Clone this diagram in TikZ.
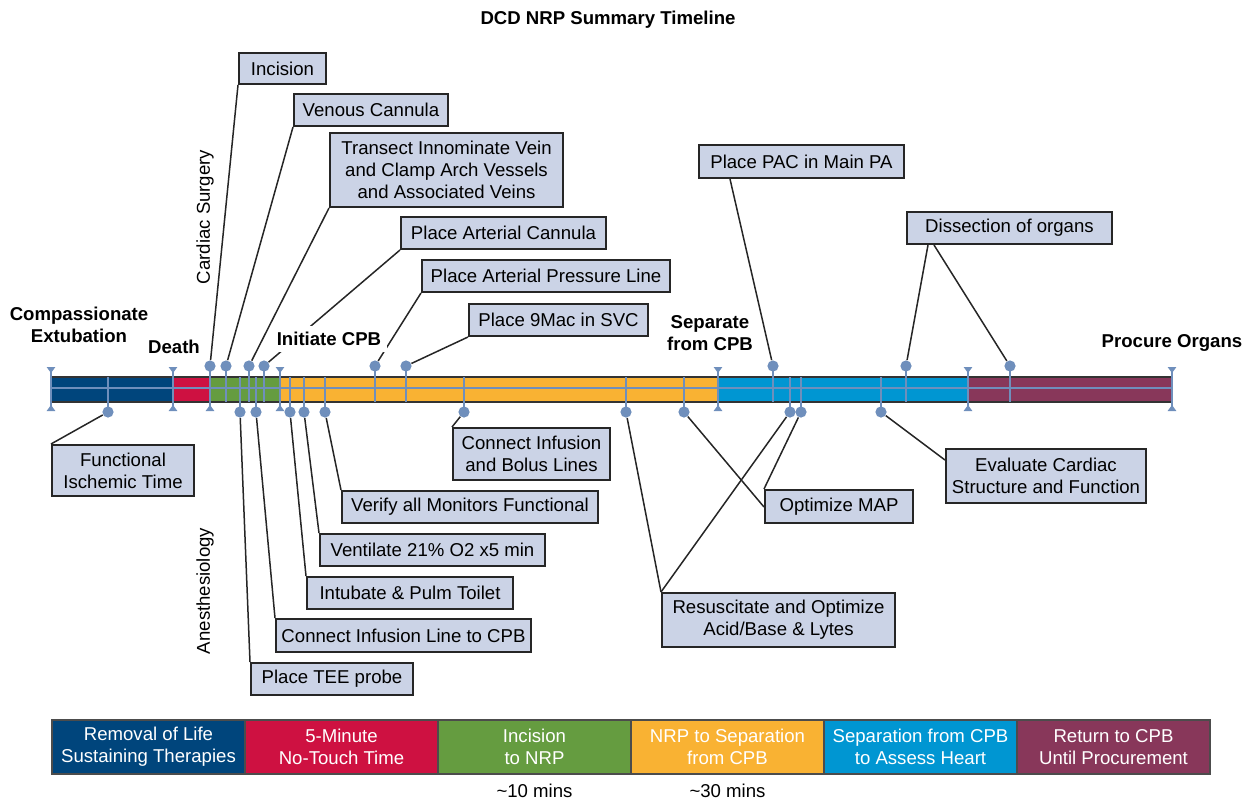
\documentclass[tikz,border=0pt]{standalone}
\usepackage{fontspec}
\setmainfont{Liberation Sans}
\usetikzlibrary{arrows.meta}

\definecolor{boxfill}{RGB}{203,211,230}
\definecolor{markcol}{RGB}{111,143,188}
\definecolor{segA}{RGB}{0,69,124}
\definecolor{segB}{RGB}{206,17,65}
\definecolor{segC}{RGB}{101,156,64}
\definecolor{segD}{RGB}{249,178,51}
\definecolor{segE}{RGB}{0,150,210}
\definecolor{segF}{RGB}{136,55,90}

\begin{document}
\begin{tikzpicture}[x=0.5pt,y=-0.5pt]
\tikzset{ >=latex, font=\fontsize{9.3}{11}\selectfont,
  evbox/.style={draw=black!85, line width=1pt, fill=boxfill, inner sep=0pt, align=center},
  evdot/.style={circle, fill=markcol, inner sep=0pt, minimum size=5.6pt},
  lead/.style={line width=0.75pt, black!85},
  barline/.style={line width=0.8pt, markcol},
  endmark/.style={line width=0.8pt, markcol,
    {Triangle[reversed,length=3pt,width=4.2pt]}-{Triangle[reversed,length=3pt,width=4.2pt]}},
  phase/.style={draw=black!70, line width=0.7pt, text=white, inner sep=0pt,
    minimum width=96.5pt, minimum height=27pt, align=center},
  stage/.style={font=\fontsize{9.3}{11}\selectfont\bfseries, align=center},
}

\useasboundingbox (0,0) rectangle (1243,799);

%\draw [lightgray, dashed] (0,0) grid[step=50] (1243,799);

% timeline bar
\fill [segA] (51,377) rectangle (173,402);
\fill [segB] (173,377) rectangle (210,402);
\fill [segC] (210,377) rectangle (280,402);
\fill [segD] (280,377) rectangle (718,402);
\fill [segE] (718,377) rectangle (968,402);
\fill [segF] (968,377) rectangle (1172,402);
\draw [black!80, line width=0.6pt] (51,377) rectangle (1172,402);

\coordinate (barT) at (0,377);
\coordinate (barB) at (0,402);
\coordinate (barL) at (51,388);
\coordinate (barR) at (1172,388);
\draw [barline] (barL) -- (barR);

% phase limits
\coordinate (e0) at (51,367);
\coordinate (e1) at (173,367);
\coordinate (e2) at (210,367);
\coordinate (e3) at (280,367);
\coordinate (e4) at (718,367);
\coordinate (e5) at (968,367);
\coordinate (e6) at (1172,367);
\coordinate (eB) at (0,411);

\draw [endmark] (e0) -- (e0 |- eB);
\draw [endmark] (e1) -- (e1 |- eB);
\draw [endmark] (e2) -- (e2 |- eB);
\draw [endmark] (e3) -- (e3 |- eB);
\draw [endmark] (e4) -- (e4 |- eB);
\draw [endmark] (e5) -- (e5 |- eB);
\draw [endmark] (e6) -- (e6 |- eB);

% events above the bar
\node [evdot] (mInc)  at (210,366) {};
\node [evdot] (mVen)  at (226,366) {};
\node [evdot] (mTra)  at (249,366) {};
\node [evdot] (mArt)  at (264,366) {};
\node [evdot] (mPrs)  at (375,366) {};
\node [evdot] (mNine) at (406,366) {};
\node [evdot] (mPAC)  at (773,366) {};
\node [evdot] (mDisA) at (906,366) {};
\node [evdot] (mDisB) at (1010,366) {};

% events below the bar
\node [evdot] (mFIT)  at (108,412) {};
\node [evdot] (mTEE)  at (240,412) {};
\node [evdot] (mCon)  at (256,412) {};
\node [evdot] (mInt)  at (290,412) {};
\node [evdot] (mVnt)  at (304,412) {};
\node [evdot] (mVer)  at (325,412) {};
\node [evdot] (mBol)  at (464,412) {};
\node [evdot] (mResA) at (626,412) {};
\node [evdot] (mMapA) at (684,412) {};
\node [evdot] (mResB) at (790,412) {};
\node [evdot] (mMapB) at (801,412) {};
\node [evdot] (mEva)  at (881,412) {};

\draw [barline] (mInc.center)  -- (mInc |- barB);
\draw [barline] (mVen.center)  -- (mVen |- barB);
\draw [barline] (mTra.center)  -- (mTra |- barB);
\draw [barline] (mArt.center)  -- (mArt |- barB);
\draw [barline] (mPrs.center)  -- (mPrs |- barB);
\draw [barline] (mNine.center) -- (mNine |- barB);
\draw [barline] (mPAC.center)  -- (mPAC |- barB);
\draw [barline] (mDisA.center) -- (mDisA |- barB);
\draw [barline] (mDisB.center) -- (mDisB |- barB);

\draw [barline] (mFIT.center)  -- (mFIT |- barT);
\draw [barline] (mTEE.center)  -- (mTEE |- barT);
\draw [barline] (mCon.center)  -- (mCon |- barT);
\draw [barline] (mInt.center)  -- (mInt |- barT);
\draw [barline] (mVnt.center)  -- (mVnt |- barT);
\draw [barline] (mVer.center)  -- (mVer |- barT);
\draw [barline] (mBol.center)  -- (mBol |- barT);
\draw [barline] (mResA.center) -- (mResA |- barT);
\draw [barline] (mMapA.center) -- (mMapA |- barT);
\draw [barline] (mResB.center) -- (mResB |- barT);
\draw [barline] (mMapB.center) -- (mMapB |- barT);
\draw [barline] (mEva.center)  -- (mEva |- barT);

% surgery boxes
\node [evbox, minimum width=43.5pt, minimum height=15.5pt] (inc) at (282.5,68.5) {Incision};
\node [evbox, minimum width=77pt, minimum height=16pt] (ven) at (371,110) {Venous Cannula};
\node [evbox, minimum width=116.5pt, minimum height=37pt] (tra) at (446.5,170)
  {Transect Innominate Vein\\and Clamp Arch Vessels\\and Associated Veins};
\node [evbox, minimum width=102.5pt, minimum height=16pt] (art) at (503.5,233) {Place Arterial Cannula};
\node [evbox, minimum width=124pt, minimum height=16pt] (prs) at (546,276) {Place Arterial Pressure Line};
\node [evbox, minimum width=89.5pt, minimum height=16pt] (nine) at (558.5,320) {Place 9Mac in SVC};
\node [evbox, minimum width=102.5pt, minimum height=16.5pt] (pac) at (801.5,161.5) {Place PAC in Main PA};
\node [evbox, minimum width=102.5pt, minimum height=16pt] (dis) at (1009.5,228) {Dissection of organs};

% anesthesia boxes
\node [evbox, minimum width=71pt, minimum height=25.5pt] (fit) at (123,470.5) {Functional\\Ischemic Time};
\node [evbox, minimum width=78.5pt, minimum height=26pt] (bol) at (531.5,454) {Connect Infusion\\and Bolus Lines};
\node [evbox, minimum width=128pt, minimum height=16pt] (ver) at (470,507) {Verify all Monitors Functional};
\node [evbox, minimum width=112.5pt, minimum height=16pt] (vnt) at (432.5,550) {Ventilate 21\% O2 x5 min};
\node [evbox, minimum width=103pt, minimum height=16pt] (int) at (410,593) {Intubate \& Pulm Toilet};
\node [evbox, minimum width=127.5pt, minimum height=16.5pt] (con) at (403.5,635.5) {Connect Infusion Line to CPB};
\node [evbox, minimum width=81pt, minimum height=16pt] (tee) at (332,679) {Place TEE probe};
\node [evbox, minimum width=74pt, minimum height=16.5pt] (map) at (839,506.5) {Optimize MAP};
\node [evbox, minimum width=116.5pt, minimum height=27pt] (res) at (778.5,620) {Resuscitate and Optimize\\Acid/Base \& Lytes};
\node [evbox, minimum width=100pt, minimum height=27pt] (eva) at (1046,476) {Evaluate Cardiac\\Structure and Function};

% leaders
\draw [lead] (mInc)  -- (inc.south west);
\draw [lead] (mVen)  -- (ven.south west);
\draw [lead] (mTra)  -- (tra.south west);
\draw [lead] (mArt)  -- (art.south west);
\draw [lead] (mPrs)  -- (prs.south west);
\draw [lead] (mNine) -- (nine.south west);
\draw [lead] (mPAC)  -- ([xshift=16pt]pac.south west);
\draw [lead] (mDisA) -- ([xshift=11pt]dis.south west);
\draw [lead] (mDisB) -- ([xshift=14pt]dis.south west);

\draw [lead] (mFIT)  -- (fit.north west);
\draw [lead] (mTEE)  -- (tee.north west);
\draw [lead] (mCon)  -- (con.north west);
\draw [lead] (mInt)  -- (int.north west);
\draw [lead] (mVnt)  -- (vnt.north west);
\draw [lead] (mVer)  -- (ver.north west);
\draw [lead] (mBol)  -- (bol.north west);
\draw [lead] (mResA) -- (res.north west);
\draw [lead] (mResB) -- (res.north west);
\draw [lead] (mMapA) -- ([yshift=-9pt]map.north west);
\draw [lead] (mMapB) -- (map.north west);
\draw [lead] (mEva)  -- ([yshift=-6pt]eva.north west);

% stage labels
\node [stage] (title) at (608,20) {DCD NRP Summary Timeline};
\node [stage] (ext)   at (79,325) {Compassionate\\Extubation};
\node [stage] (death) at (174,347) {Death};
\node [stage, fill=white, inner sep=3pt] (cpb) at (329,339) {Initiate CPB};
\node [stage] (sep)   at (710,333) {Separate\\from CPB};
\node [stage] (proc)  at (1172,343) {Procure Organs};

\node [rotate=90] (surg) at (205,217) {Cardiac Surgery};
\node [rotate=90] (anes) at (205,591) {Anesthesiology};

% phase legend
\node [phase, fill=segA] (ph1) at (148.5,747) {Removal of Life\\Sustaining Therapies};
\node [phase, fill=segB] (ph2) at (341.5,747) {5-Minute\\No-Touch Time};
\node [phase, fill=segC] (ph3) at (534.5,747) {Incision\\to NRP};
\node [phase, fill=segD] (ph4) at (727.5,747) {NRP to Separation\\from CPB};
\node [phase, fill=segE] (ph5) at (920.5,747) {Separation from CPB\\to Assess Heart};
\node [phase, fill=segF] (ph6) at (1113.5,747) {Return to CPB\\Until Procurement};

\node (dur3) at (534.5,791) {\textasciitilde10 mins};
\node (dur4) at (727.5,791) {\textasciitilde30 mins};

\end{tikzpicture}
\end{document}
